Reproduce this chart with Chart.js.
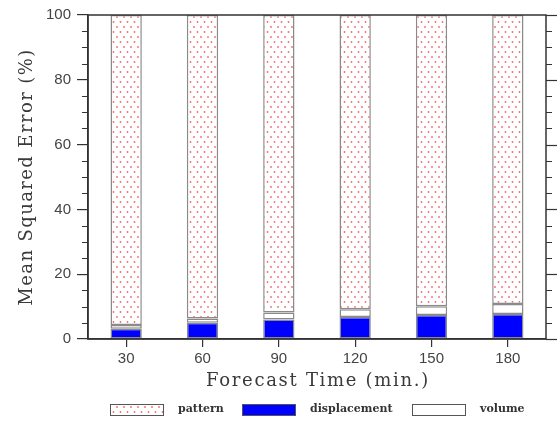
<!DOCTYPE html>
<html lang="en">
<head>
    <meta charset="UTF-8">
    <title>Mean Squared Error</title>
    <script src="https://cdn.jsdelivr.net/npm/chart.js"></script>
    <style>
        html, body { margin: 0; padding: 0; background: #fff; }
        #wrap { width: 559px; height: 424px; }
    </style>
</head>
<body>
    <div id="wrap"><canvas id="mse-chart" width="559" height="424"></canvas></div>

    <script>
        // forecast lead times (min.)
        const forecastTimes = ['30', '60', '90', '120', '150', '180'];
        // stacked shares of the MSE (%), bottom to top
        const displacement = [3.2, 5.0, 6.0, 6.8, 7.4, 7.7];
        const volume = [1.1, 1.35, 2.2, 2.4, 2.7, 3.1];
        const pattern = [95.7, 93.65, 91.8, 90.8, 89.9, 89.2];
        const yTicks = [0, 20, 40, 60, 80, 100];
        const legendOrder = ['pattern', 'displacement', 'volume'];
        const xTitle = 'Forecast Time (min.)';
        const yTitle = 'Mean Squared Error (%)';

        // red dotted fill for the pattern part
        function dotPattern() {
            let c = document.createElement('canvas');
            c.width = 7; c.height = 10;
            let g = c.getContext('2d');
            g.fillStyle = '#fff';
            g.fillRect(0, 0, 7, 10);
            g.fillStyle = '#f26b6b';
            g.beginPath(); g.arc(1.5, 2, 0.9, 0, Math.PI * 2); g.fill();
            g.beginPath(); g.arc(5, 7, 0.9, 0, Math.PI * 2); g.fill();
            return g.createPattern(c, 'repeat');
        }
        const dots = dotPattern();

        const axisColor = '#333';
        const tickFont = { family: 'Liberation Sans', size: 15 };

        // minor ticks, right axis ticks, frame, axis titles and bottom legend
        const framePlugin = {
            id: 'frame',
            afterDraw(chart) {
                let ctx = chart.ctx;
                let a = chart.chartArea;
                let y = chart.scales.y;
                ctx.save();
                ctx.strokeStyle = axisColor;
                ctx.lineWidth = 1.5;
                ctx.strokeRect(a.left, a.top, a.right - a.left, a.bottom - a.top);
                ctx.lineWidth = 1.2;
                for (let v = 0; v <= 100; v += 5) {
                    let py = Math.round(y.getPixelForValue(v)) + 0.5;
                    let len = v % 20 === 0 ? 11 : 6;
                    ctx.beginPath();
                    if (v % 20 !== 0) {
                        ctx.moveTo(a.left - len, py); ctx.lineTo(a.left, py);
                    }
                    ctx.moveTo(a.right, py); ctx.lineTo(a.right + len, py);
                    ctx.stroke();
                }

                // axis titles, spaced out like the original
                ctx.fillStyle = '#3a3a3a';
                ctx.font = '18px "DejaVu Serif"';
                ctx.textAlign = 'center';
                ctx.textBaseline = 'middle';
                ctx.letterSpacing = '1.7px';
                ctx.fillText(xTitle, (a.left + a.right) / 2 + 1, 381);
                ctx.save();
                ctx.translate(27, (a.top + a.bottom) / 2);
                ctx.rotate(-Math.PI / 2);
                ctx.letterSpacing = '1.4px';
                ctx.fillText(yTitle, 0, 0);
                ctx.restore();
                ctx.letterSpacing = '0px';

                // legend
                let boxes = { pattern: 110, displacement: 242, volume: 412 };
                ctx.font = 'bold 11px "DejaVu Serif"';
                ctx.textAlign = 'left';
                legendOrder.forEach(name => {
                    let ds = chart.data.datasets.find(d => d.label === name);
                    let x = boxes[name];
                    ctx.fillStyle = ds.backgroundColor;
                    ctx.fillRect(x, 404, 53, 11);
                    ctx.strokeStyle = '#555';
                    ctx.lineWidth = 1;
                    ctx.strokeRect(x + 0.5, 404.5, 53, 11);
                    ctx.fillStyle = '#333';
                    ctx.fillText(name, x + 68, 409);
                });
                ctx.restore();
            }
        };

        const barStyle = {
            borderColor: '#8a8a8a',
            borderWidth: 1.5,
            borderSkipped: false,
            barPercentage: 0.41,
            categoryPercentage: 1.0
        };

        new Chart(document.getElementById('mse-chart'), {
            type: 'bar',
            data: {
                labels: forecastTimes,
                datasets: [
                    Object.assign({ label: 'displacement', data: displacement, backgroundColor: '#0000ff' }, barStyle),
                    Object.assign({ label: 'volume', data: volume, backgroundColor: '#ffffff' }, barStyle),
                    Object.assign({ label: 'pattern', data: pattern, backgroundColor: dots }, barStyle)
                ]
            },
            options: {
                responsive: false,
                animation: false,
                layout: { padding: { left: 0, right: 13, top: 13, bottom: 30 } },
                plugins: { legend: { display: false }, tooltip: { enabled: false } },
                scales: {
                    x: {
                        stacked: true,
                        grid: { display: true, drawOnChartArea: false, offset: false, tickLength: 8, color: axisColor, lineWidth: 1.2 },
                        border: { display: true, color: axisColor, width: 1.5 },
                        ticks: { font: tickFont, color: '#444', padding: 3, maxRotation: 0 },
                        afterFit(scale) { scale.height = 55; }
                    },
                    y: {
                        stacked: true,
                        min: 0,
                        max: 100,
                        afterBuildTicks(scale) { scale.ticks = yTicks.map(v => ({ value: v })); },
                        grid: { display: true, drawOnChartArea: false, tickLength: 11, color: axisColor, lineWidth: 1.2 },
                        border: { display: true, color: axisColor, width: 1.5 },
                        ticks: { font: tickFont, color: '#444', padding: 6 },
                        afterFit(scale) { scale.width = 88; }
                    }
                }
            },
            plugins: [framePlugin]
        });
    </script>
</body>
</html>
